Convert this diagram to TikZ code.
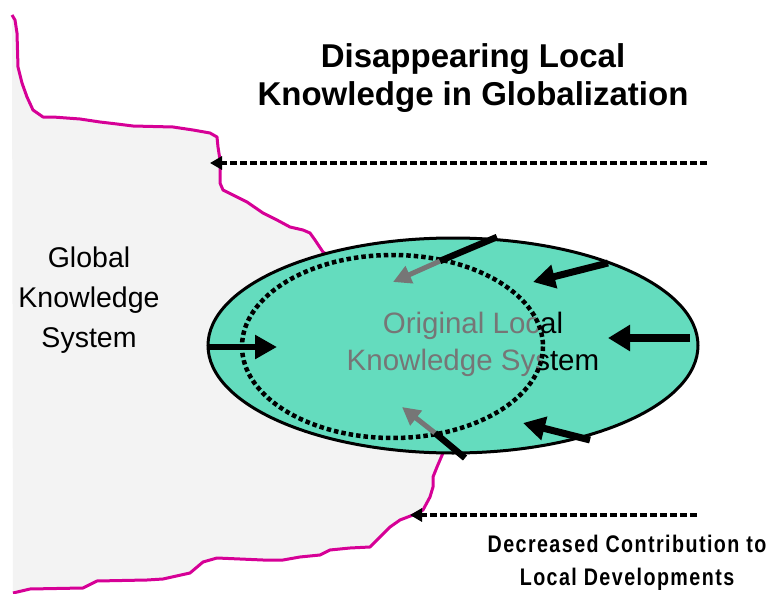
\documentclass[tikz,border=0pt]{standalone}
\usepackage{fontspec}
\setmainfont{Liberation Sans}
\newfontfamily\narrowfont{Liberation Sans}[FakeStretch=0.82,LetterSpace=6]
\usepackage{xcolor}
\usetikzlibrary{arrows.meta}
\definecolor{edgeColor}{RGB}{214,0,150}
\definecolor{localColor}{RGB}{100,220,190}
\definecolor{globalColor}{RGB}{243,243,243}
\definecolor{fadeColor}{RGB}{118,118,118}

\begin{document}
\begin{tikzpicture}[x=1pt,y=-1pt,
  push/.style={line width=7pt,-{Triangle[length=22pt,width=23pt]}},
  fadepush/.style={fadeColor,line width=5pt,-{Triangle[length=18pt,width=18pt]}},
  dotpush/.style={line width=4.5pt,dash pattern=on 7pt off 3pt,-{Triangle[length=12pt,width=13pt]}},
]
\newcommand\GlobalEdge{-- (15,20) -- (17,33) -- (18,67) -- (22,83) -- (27,97) -- (33,110)
  -- (43,117) -- (53,117) -- (80,119) -- (100,122) -- (117,124) -- (133,126) -- (173,127)
  -- (193,130) -- (210,133) -- (217,137) -- (218,147) -- (220,160) -- (220,183) -- (223,190)
  -- (233,195) -- (247,202) -- (263,213) -- (277,220) -- (290,227) -- (303,230) -- (310,233)
  -- (315,240) -- (323,252) -- (328,255) -- (370,320) -- (420,400) -- (440,450) -- (443,453)
  -- (437,467) -- (433,477) -- (433,487) -- (430,497) -- (423,510) -- (413,515) -- (400,520)
  -- (390,527) -- (380,537) -- (370,547) -- (350,548) -- (330,550) -- (320,555) -- (300,557)
  -- (283,560) -- (263,560) -- (217,558) -- (203,562) -- (190,573) -- (163,579) -- (147,580)
  -- (97,581) -- (83,588) -- (30,589) -- (13,593)}
\useasboundingbox (0,0) rectangle (769,594);

% global side
\fill [globalColor] (12,15) \GlobalEdge -- cycle;
\draw [edgeColor, line width=3pt, line join=round] (12,15) \GlobalEdge;

% local knowledge system
\filldraw [fill=localColor, draw=black, line width=3pt] (453,345.5) ellipse (245 and 107.5);
\node (local) [anchor=north, inner sep=0, align=center, font=\fontsize{29.5}{37}\selectfont]
  at (473,312) {Original Local\\Knowledge System};
\begin{scope}
  \clip (392.5,346.5) ellipse (150.5 and 91.5);
  \fill [localColor] (392.5,346.5) ellipse (150.5 and 91.5);
  \node (localFaded) [anchor=north, inner sep=0, align=center, text=fadeColor,
    font=\fontsize{29.5}{37}\selectfont] at (473,312) {Original Local\\Knowledge System};
\end{scope}
\draw [line width=4.5pt, dash pattern=on 4.5pt off 3pt] (392.5,346.5) ellipse (150.5 and 91.5);

% arrows into the local system
\coordinate (topTail) at (497,237);
\coordinate (topCross) at (440,261);
\coordinate (topTip) at (393,282);
\coordinate (lowTail) at (465,458);
\coordinate (lowCross) at (435,433);
\coordinate (lowTip) at (402,407);
\draw [fadepush] (topCross) -- (topTip);
\draw [fadepush] (lowCross) -- (lowTip);
\draw [line width=6.5pt] (topTail) -- (topCross);
\draw [line width=6.5pt] (lowTail) -- (lowCross);

\coordinate (leftTail) at (208,347);
\coordinate (leftTip) at (277,347);
\coordinate (rightTail) at (690,338);
\coordinate (rightTip) at (608,338);
\coordinate (upTail) at (608,263);
\coordinate (upTip) at (533,282);
\coordinate (downTail) at (590,440);
\coordinate (downTip) at (523,423);
\draw [push, line width=5.5pt] (leftTail) -- (leftTip);
\draw [push, line width=8.5pt, -{Triangle[length=22pt,width=25pt]}] (rightTail) -- (rightTip);
\draw [push] (upTail) -- (upTip);
\draw [push] (downTail) -- (downTip);

% dotted arrows to the edge
\coordinate (upperStart) at (707,163);
\coordinate (upperEdge) at (210,163);
\coordinate (lowerStart) at (697,515);
\coordinate (lowerEdge) at (410,515);
\draw [dotpush] (upperStart) -- (upperEdge);
\draw [dotpush] (lowerStart) -- (lowerEdge);

% labels
\node (title) [anchor=north, inner sep=0, align=center, font=\bfseries\fontsize{33}{38}\selectfont]
  at (473,43) {Disappearing Local\\Knowledge in Globalization};
\node (global) [anchor=north, inner sep=0, align=center, font=\fontsize{28.5}{40}\selectfont]
  at (89,247) {Global\\Knowledge\\System};
\node (contrib) [anchor=north, inner sep=0, align=center, font=\narrowfont\bfseries\fontsize{24}{33}\selectfont]
  at (627,535) {Decreased Contribution to\\Local Developments};
\end{tikzpicture}
\end{document}
